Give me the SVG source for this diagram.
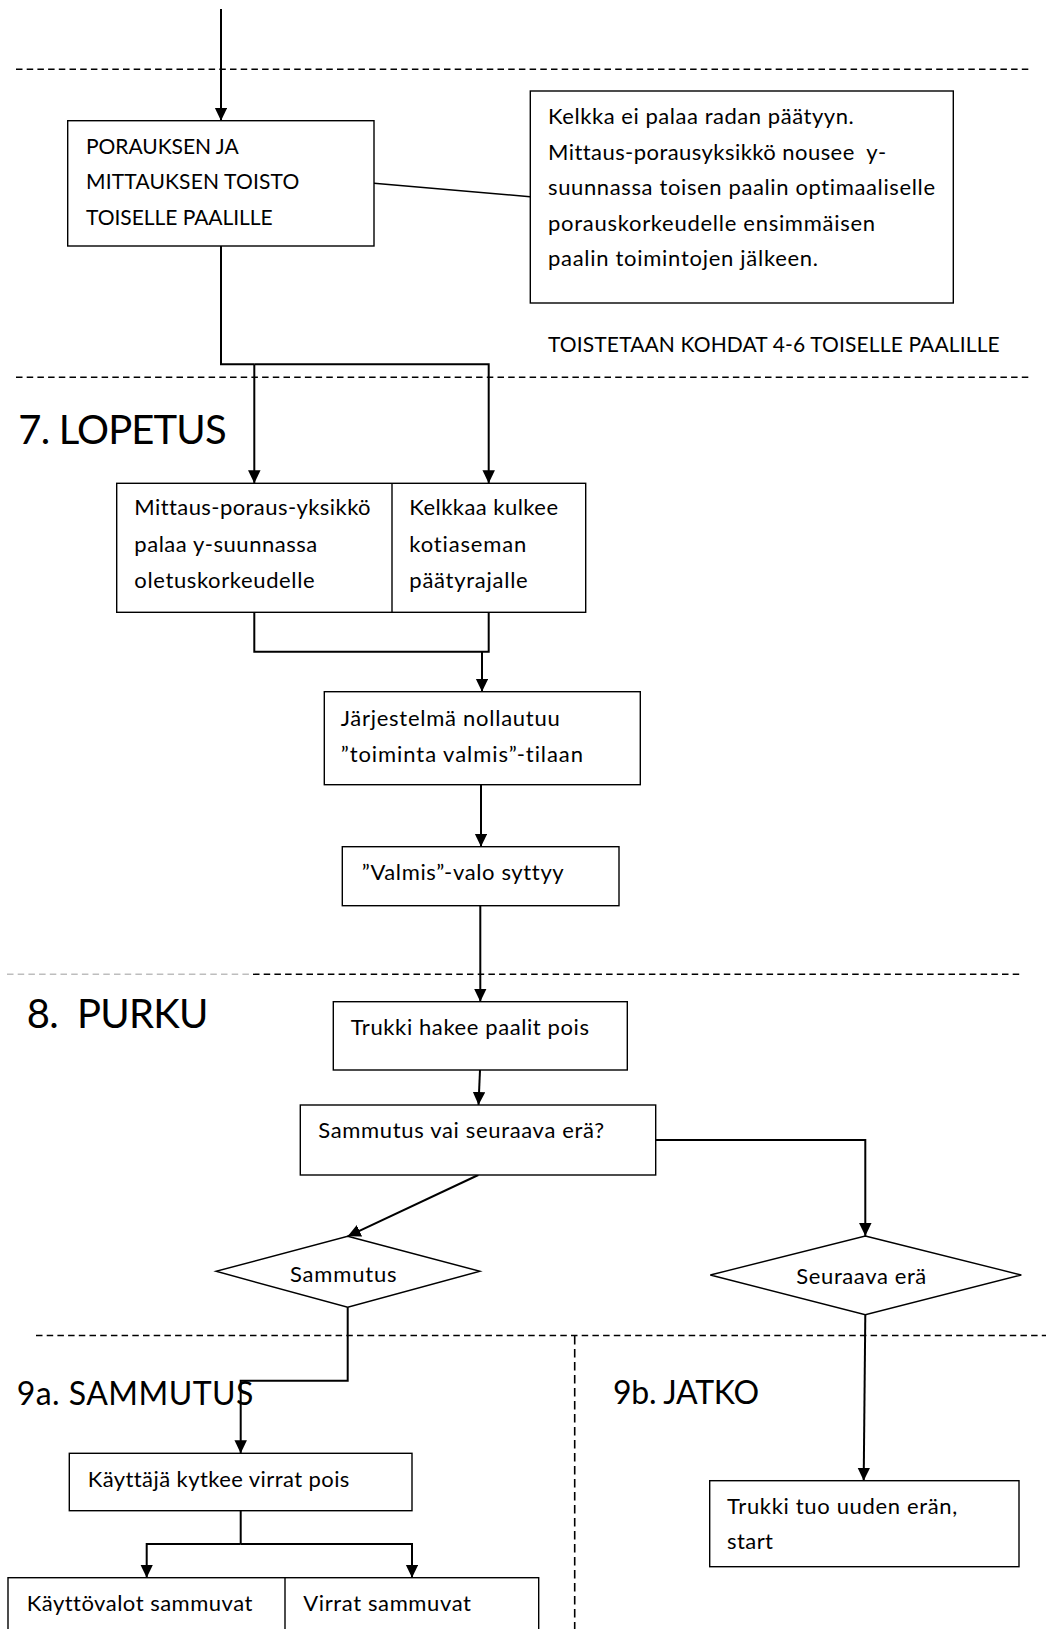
<svg xmlns="http://www.w3.org/2000/svg" width="1046" height="1629" viewBox="0 0 1046 1629">
  <style>
    text { font-variant-ligatures: none; }
    .box { fill: #ffffff; stroke: #000000; stroke-width: 1.4; }
    .t { font-family: Lato, "Liberation Sans", sans-serif; font-size: 22px; fill: #000000; }
    .caps { font-size: 21px; }
    .h1 { font-family: Lato, "Liberation Sans", sans-serif; font-size: 40px; fill: #000000; }
    .h2 { font-family: Lato, "Liberation Sans", sans-serif; font-size: 32px; fill: #000000; }
    .mid { text-anchor: middle; }
    .conn { fill: none; stroke: #000000; stroke-width: 2; }
    .thin { fill: none; stroke: #000000; stroke-width: 1.5; }
    .arrow { marker-end: url(#head); }
    .divider { fill: none; stroke: #000000; stroke-width: 1.4; stroke-dasharray: 6.5 4.2; }
    .divider-faint { fill: none; stroke: #bdbdbd; stroke-width: 1.4; stroke-dasharray: 6.5 4.2; }
    .divider-v { fill: none; stroke: #000000; stroke-width: 1.6; stroke-dasharray: 8.5 4.5; }
  </style>
  <defs>
    <marker id="head" markerUnits="userSpaceOnUse" markerWidth="13" markerHeight="13" refX="13" refY="6.25" orient="auto">
      <path d="M0,0 L13,6.25 L0,12.5 Z" fill="#000000"/>
    </marker>
  </defs>

  <!-- section dividers -->
  <g id="dividers">
    <line class="divider" x1="16" y1="69.3" x2="1030" y2="69.3"/>
    <line class="divider" x1="16" y1="377.3" x2="1030" y2="377.3"/>
    <line class="divider-faint" x1="7" y1="974.3" x2="253" y2="974.3"/>
    <line class="divider" x1="253" y1="974.3" x2="1022" y2="974.3"/>
    <line class="divider" x1="36" y1="1335.5" x2="1046" y2="1335.5"/>
    <line class="divider-v" x1="574.7" y1="1336" x2="574.7" y2="1629"/>
  </g>

  <!-- section headings -->
  <g id="headings">
    <text class="h1" x="18.3" y="444" textLength="208.3">7. LOPETUS</text>
    <text class="h1" x="26.7" y="1028.3" textLength="181.7" xml:space="preserve">8.  PURKU</text>
    <text class="h2" x="16.7" y="1404.7" textLength="236.7">9a. SAMMUTUS</text>
    <text class="h2" x="613" y="1404" textLength="146">9b. JATKO</text>
  </g>

  <!-- connectors -->
  <g id="connectors">
    <path class="conn arrow" d="M221,9 V120.7"/>
    <path class="thin" d="M374,183.3 L530,196.7"/>
    <path class="conn" d="M221,246 V364.3 H254.3"/>
    <path class="conn arrow" d="M254.3,364.3 V483.3"/>
    <path class="conn arrow" d="M254.3,364.3 H488.7 V483.3"/>
    <path class="conn" d="M254.3,612.3 V651.7 H488.7 V612.3"/>
    <path class="conn arrow" d="M482,651.7 V691.7"/>
    <path class="conn arrow" d="M481,784.7 V846.7"/>
    <path class="conn arrow" d="M480.3,905.7 V1001.7"/>
    <path class="conn arrow" d="M480,1070 L478.5,1105"/>
    <path class="conn arrow" d="M478.3,1175 L347.7,1236.3"/>
    <path class="conn arrow" d="M655.7,1140 H865.3 V1236"/>
    <path class="conn arrow" d="M347.7,1307.3 V1380.7 H240.7 V1453.3"/>
    <path class="conn arrow" d="M865.3,1314.7 L863.7,1480.7"/>
    <path class="conn" d="M240.7,1510.7 V1544"/>
    <path class="conn arrow" d="M240.7,1544 H146.7 V1577.7"/>
    <path class="conn arrow" d="M240.7,1544 H412 V1577.7"/>
  </g>

  <!-- 6: repeat drilling and measuring -->
  <g id="node-toisto">
    <rect class="box" x="67.7" y="120.7" width="306.3" height="125.3"/>
    <text class="t caps" x="86" y="154" textLength="152.7">PORAUKSEN JA</text>
    <text class="t caps" x="86" y="189.3" textLength="213.3">MITTAUKSEN TOISTO</text>
    <text class="t caps" x="86" y="225.3" textLength="186.7">TOISELLE PAALILLE</text>
  </g>

  <g id="node-note">
    <rect class="box" x="530.3" y="91" width="423" height="212"/>
    <text class="t" x="548" y="124" textLength="305.7">Kelkka ei palaa radan päätyyn.</text>
    <text class="t" x="548" y="160" textLength="338.3" xml:space="preserve">Mittaus-porausyksikkö nousee  y-</text>
    <text class="t" x="548" y="195.3" textLength="387">suunnassa toisen paalin optimaaliselle</text>
    <text class="t" x="548" y="231" textLength="327">porauskorkeudelle ensimmäisen</text>
    <text class="t" x="548" y="266" textLength="270">paalin toimintojen jälkeen.</text>
  </g>

  <g id="label-repeat">
    <text class="t caps" x="548" y="351.7" textLength="451.7">TOISTETAAN KOHDAT 4-6 TOISELLE PAALILLE</text>
  </g>

  <!-- 7: finishing -->
  <g id="node-lopetus">
    <rect class="box" x="116.7" y="483.3" width="469" height="129"/>
    <line class="box" x1="392" y1="483.3" x2="392" y2="612.3"/>
    <text class="t" x="134.3" y="515" textLength="236.3">Mittaus-poraus-yksikkö</text>
    <text class="t" x="134.3" y="551.5" textLength="183">palaa y-suunnassa</text>
    <text class="t" x="134.3" y="587.7" textLength="180.3">oletuskorkeudelle</text>
    <text class="t" x="409.3" y="515" textLength="148.7">Kelkkaa kulkee</text>
    <text class="t" x="409.3" y="551.5" textLength="117">kotiaseman</text>
    <text class="t" x="409.3" y="587.7" textLength="118.4">päätyrajalle</text>
  </g>

  <g id="node-nollaus">
    <rect class="box" x="324.3" y="691.7" width="316" height="93"/>
    <text class="t" x="340.7" y="725.7" textLength="219">Järjestelmä nollautuu</text>
    <text class="t" x="340.7" y="761.7" textLength="242.3">”toiminta valmis”-tilaan</text>
  </g>

  <g id="node-valmis">
    <rect class="box" x="342.3" y="846.7" width="276.7" height="59"/>
    <text class="t" x="361.7" y="880" textLength="202">”Valmis”-valo syttyy</text>
  </g>

  <!-- 8: unloading -->
  <g id="node-trukki-hakee">
    <rect class="box" x="333.3" y="1001.7" width="294" height="68.3"/>
    <text class="t" x="350.7" y="1035" textLength="238.3">Trukki hakee paalit pois</text>
  </g>

  <g id="node-valinta">
    <rect class="box" x="300.3" y="1105" width="355.4" height="70"/>
    <text class="t" x="318.3" y="1138.3" textLength="285.7">Sammutus vai seuraava erä?</text>
  </g>

  <g id="node-sammutus">
    <polygon class="box" points="347.7,1236.3 480,1271.3 347.7,1307.3 216,1271.3"/>
    <text class="t mid" x="343.3" y="1281.7" textLength="106.7">Sammutus</text>
  </g>

  <g id="node-seuraava">
    <polygon class="box" points="865.3,1236 1021.3,1275 865.3,1314.7 710.3,1275"/>
    <text class="t mid" x="861.3" y="1284" textLength="130">Seuraava erä</text>
  </g>

  <!-- 9a: shutdown -->
  <g id="node-virrat-pois">
    <rect class="box" x="69.3" y="1453.3" width="342.7" height="57.4"/>
    <text class="t" x="87.7" y="1486.7" textLength="261.7">Käyttäjä kytkee virrat pois</text>
  </g>

  <g id="node-sammuvat">
    <rect class="box" x="8" y="1577.7" width="530.7" height="70"/>
    <line class="box" x1="285" y1="1577.7" x2="285" y2="1640"/>
    <text class="t" x="26.7" y="1610.7" textLength="225.7">Käyttövalot sammuvat</text>
    <text class="t" x="303.3" y="1610.7" textLength="167.7">Virrat sammuvat</text>
  </g>

  <!-- 9b: continue -->
  <g id="node-uusi-era">
    <rect class="box" x="709.7" y="1480.7" width="309.3" height="86"/>
    <text class="t" x="727" y="1514" textLength="230.3">Trukki tuo uuden erän,</text>
    <text class="t" x="727" y="1549" textLength="46">start</text>
  </g>
</svg>
